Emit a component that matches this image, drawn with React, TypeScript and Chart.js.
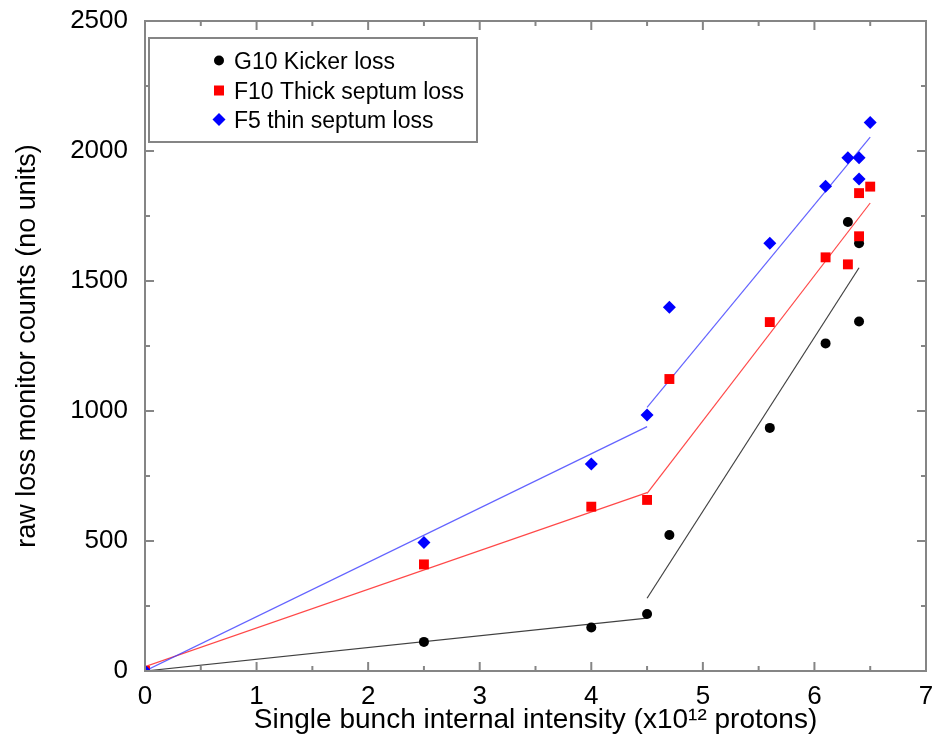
import React, { useEffect, useRef } from 'react';
import { Chart, registerables } from 'chart.js';

Chart.register(...registerables);

// ---- data ----
const SERIES_LABELS = ['G10 Kicker loss', 'F10 Thick septum loss', 'F5 thin septum loss'];

const G10_X = [0, 2.5, 4.0, 4.5, 4.7, 5.6, 6.1, 6.3, 6.4, 6.4];
const G10_Y = [0, 112, 167, 219, 523, 935, 1260, 1727, 1645, 1344];

const F10_X = [0, 2.5, 4.0, 4.5, 4.7, 5.6, 6.1, 6.3, 6.4, 6.4, 6.5];
const F10_Y = [0, 410, 632, 658, 1123, 1342, 1591, 1564, 1672, 1838, 1863];

const F5_X = [0, 2.5, 4.0, 4.5, 4.7, 5.6, 6.1, 6.3, 6.4, 6.4, 6.5];
const F5_Y = [0, 494, 796, 985, 1399, 1645, 1864, 1974, 1974, 1892, 2110];

// fitted line segments (end points)
const G10_FIT_LOW_X = [0, 4.5];
const G10_FIT_LOW_Y = [0, 203];
const G10_FIT_HIGH_X = [4.5, 6.4];
const G10_FIT_HIGH_Y = [280, 1551];

const F10_FIT_LOW_X = [0, 4.5];
const F10_FIT_LOW_Y = [17, 686];
const F10_FIT_HIGH_X = [4.5, 6.5];
const F10_FIT_HIGH_Y = [683, 1800];

const F5_FIT_LOW_X = [0, 4.5];
const F5_FIT_LOW_Y = [0, 940];
const F5_FIT_HIGH_X = [4.5, 6.5];
const F5_FIT_HIGH_Y = [1014, 2053];

const X_MAJOR = [0, 1, 2, 3, 4, 5, 6, 7];
const X_MINOR = [0.5, 1.5, 2.5, 3.5, 4.5, 5.5, 6.5];
const Y_MAJOR = [0, 500, 1000, 1500, 2000, 2500];
const Y_MINOR = [250, 750, 1250, 1750, 2250];

const X_TITLE = 'Single bunch internal intensity (x10\u00B9\u00B2 protons)';
const Y_TITLE = 'raw loss monitor counts (no units)';

// ---- styling ----
const FONT = "'Liberation Sans', Arial, Helvetica, sans-serif";
const BLACK = '#000000';
const RED = '#ff0000';
const BLUE = '#0000ff';
const FRAME = '#858585';

const pts = (xs: number[], ys: number[]) => xs.map((x, i) => ({ x, y: ys[i] }));

const framePlugin = {
  id: 'frameTicks',
  afterDatasetsDraw(chart: any) {
    const { ctx, chartArea } = chart;
    const xs = chart.scales.x;
    const ys = chart.scales.y;
    const { left, right, top, bottom } = chartArea;
    ctx.save();
    ctx.strokeStyle = FRAME;
    ctx.lineWidth = 2;
    ctx.strokeRect(left, top, right - left, bottom - top);
    const tick = (x1: number, y1: number, x2: number, y2: number) => {
      ctx.beginPath();
      ctx.moveTo(x1, y1);
      ctx.lineTo(x2, y2);
      ctx.stroke();
    };
    const maj = 9;
    const min = 5;
    X_MAJOR.forEach((v) => {
      const p = xs.getPixelForValue(v);
      tick(p, bottom, p, bottom - maj);
      tick(p, top, p, top + maj);
    });
    X_MINOR.forEach((v) => {
      const p = xs.getPixelForValue(v);
      tick(p, bottom, p, bottom - min);
      tick(p, top, p, top + min);
    });
    Y_MAJOR.forEach((v) => {
      const p = ys.getPixelForValue(v);
      tick(left, p, left + maj, p);
      tick(right, p, right - maj, p);
    });
    Y_MINOR.forEach((v) => {
      const p = ys.getPixelForValue(v);
      tick(left, p, left + min, p);
      tick(right, p, right - min, p);
    });
    ctx.restore();
  },
};

const legendPlugin = {
  id: 'boxLegend',
  afterDraw(chart: any) {
    const ctx = chart.ctx;
    ctx.save();
    ctx.fillStyle = '#ffffff';
    ctx.fillRect(149, 38, 328, 104);
    ctx.strokeStyle = FRAME;
    ctx.lineWidth = 2;
    ctx.strokeRect(149, 38, 328, 104);
    const mx = 219;
    const rows = [60.5, 90.5, 119.5];
    // circle
    ctx.fillStyle = BLACK;
    ctx.beginPath();
    ctx.arc(mx, rows[0], 5, 0, Math.PI * 2);
    ctx.fill();
    // square
    ctx.fillStyle = RED;
    ctx.fillRect(mx - 5, rows[1] - 5, 10, 10);
    // diamond
    ctx.fillStyle = BLUE;
    ctx.beginPath();
    ctx.moveTo(mx, rows[2] - 6.5);
    ctx.lineTo(mx + 6.5, rows[2]);
    ctx.lineTo(mx, rows[2] + 6.5);
    ctx.lineTo(mx - 6.5, rows[2]);
    ctx.closePath();
    ctx.fill();
    ctx.fillStyle = '#000';
    ctx.font = `23px ${FONT}`;
    ctx.textBaseline = 'alphabetic';
    ctx.textAlign = 'left';
    SERIES_LABELS.forEach((t, i) => ctx.fillText(t, 234, rows[i] + 8.2));
    ctx.restore();
  },
};

export default function App() {
  const ref = useRef<HTMLCanvasElement | null>(null);

  useEffect(() => {
    if (!ref.current) return;
    const lineDs = (xs: number[], ys: number[], color: string, order: number) => ({
      data: pts(xs, ys),
      showLine: true,
      borderColor: color,
      borderWidth: 1.2,
      pointRadius: 0,
      fill: false,
      order,
    });
    const chart = new Chart(ref.current, {
      type: 'scatter',
      data: {
        datasets: [
          {
            label: SERIES_LABELS[2],
            data: pts(F5_X, F5_Y),
            pointStyle: 'rectRot',
            pointRadius: 6.5,
            backgroundColor: BLUE,
            borderColor: BLUE,
            borderWidth: 0,
            order: 0,
          },
          {
            label: SERIES_LABELS[1],
            data: pts(F10_X, F10_Y),
            pointStyle: 'rect',
            pointRadius: 7,
            backgroundColor: RED,
            borderColor: RED,
            borderWidth: 0,
            order: 1,
          },
          {
            label: SERIES_LABELS[0],
            data: pts(G10_X, G10_Y),
            pointStyle: 'circle',
            pointRadius: 5,
            backgroundColor: BLACK,
            borderColor: BLACK,
            borderWidth: 0,
            order: 2,
          },
          lineDs(F5_FIT_LOW_X, F5_FIT_LOW_Y, 'rgba(60,60,255,0.8)', 3),
          lineDs(F5_FIT_HIGH_X, F5_FIT_HIGH_Y, 'rgba(60,60,255,0.8)', 3),
          lineDs(F10_FIT_LOW_X, F10_FIT_LOW_Y, 'rgba(255,40,40,0.85)', 4),
          lineDs(F10_FIT_HIGH_X, F10_FIT_HIGH_Y, 'rgba(255,40,40,0.85)', 4),
          lineDs(G10_FIT_LOW_X, G10_FIT_LOW_Y, 'rgba(30,30,30,0.85)', 5),
          lineDs(G10_FIT_HIGH_X, G10_FIT_HIGH_Y, 'rgba(30,30,30,0.85)', 5),
        ] as any,
      },
      options: {
        animation: false,
        responsive: true,
        maintainAspectRatio: false,
        layout: { padding: { top: 21, right: 8, left: 0, bottom: 0 } },
        plugins: {
          legend: { display: false },
          tooltip: { enabled: false },
        },
        scales: {
          x: {
            type: 'linear',
            min: 0,
            max: 7,
            grid: { display: false, drawTicks: false },
            border: { display: false },
            ticks: {
              stepSize: 1,
              color: '#000',
              padding: 10,
              font: { family: FONT, size: 26 },
              callback: (v: any) => String(v),
            },
            title: {
              display: true,
              text: X_TITLE,
              color: '#000',
              font: { family: FONT, size: 28 },
              padding: { top: 0, bottom: 10 },
            },
            afterFit: (s: any) => {
              s.height = 76;
              s.paddingLeft = 0;
              s.paddingRight = 0;
            },
          },
          y: {
            type: 'linear',
            min: 0,
            max: 2500,
            grid: { display: false, drawTicks: false },
            border: { display: false },
            ticks: {
              stepSize: 500,
              color: '#000',
              padding: 17,
              font: { family: FONT, size: 26 },
              callback: (v: any) => String(v),
            },
            title: {
              display: true,
              text: Y_TITLE,
              color: '#000',
              font: { family: FONT, size: 27 },
              padding: { top: 11, bottom: 0 },
            },
            afterFit: (s: any) => {
              s.width = 145;
              s.paddingTop = 0;
              s.paddingBottom = 0;
            },
          },
        },
      } as any,
      plugins: [framePlugin, legendPlugin],
    });
    return () => chart.destroy();
  }, []);

  return (
    <div style={{ position: 'absolute', left: 0, top: 0, width: 934, height: 747, background: '#fff' }}>
      <canvas ref={ref} />
    </div>
  );
}
